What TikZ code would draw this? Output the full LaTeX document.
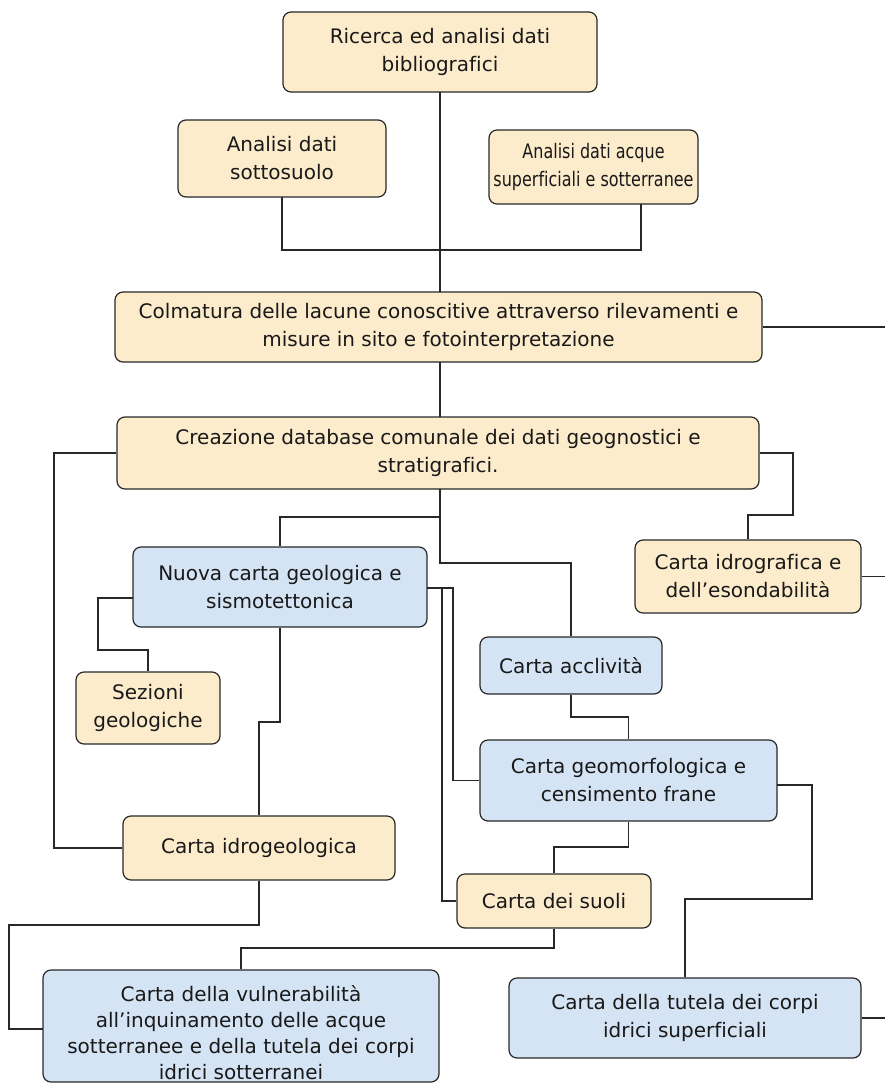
\documentclass[tikz,border=0pt]{standalone}
\usepackage{fontspec}
\setmainfont[Ligatures=NoCommon]{DejaVu Sans}
\newfontfamily\narrowfont[Ligatures=NoCommon,FakeStretch=0.8]{DejaVu Sans}
\usepackage{tikz}
\usetikzlibrary{positioning,calc}
\definecolor{boxorange}{RGB}{252,236,204}
\definecolor{boxblue}{RGB}{212,228,244}
\definecolor{boxline}{RGB}{40,40,40}
\tikzset{
    box/.style={draw=boxline,line width=1.2pt,rounded corners=8pt,align=center,inner sep=0pt,text=black!90},
    orange box/.style={box,fill=boxorange},
    blue box/.style={box,fill=boxblue},
    size/.style 2 args={minimum width=#1pt,minimum height=#2pt},
    link/.style={draw=boxline,line width=1.2pt},
}
\tikzstyle{every node}=[font=\fontsize{20}{28}\selectfont]

\begin{document}
\begin{tikzpicture}[x=1pt,y=-1pt]
        \useasboundingbox (0,0) rectangle (885,1084);

        \node[orange box,size={314}{80}] (ricerca) at (440,52)
        {Ricerca ed analisi dati\\bibliografici};
        \node[orange box,size={208}{77}] (sottosuolo) at (282,158.5)
        {Analisi dati\\sottosuolo};
        \node[orange box,size={209}{74},font=\narrowfont\fontsize{20}{28}\selectfont] (acque) at (593.5,167)
        {Analisi dati acque\\superficiali e sotterranee};
        \node[orange box,size={647}{70}] (colmatura) at (438.5,327)
        {Colmatura delle lacune conoscitive attraverso rilevamenti e\\misure in sito e fotointerpretazione};
        \node[orange box,size={642}{72}] (creazione) at (438,453)
        {Creazione database comunale dei dati geognostici e\\stratigrafici.};
        \node[blue box,size={294}{80}] (nuova) at (280,587)
        {Nuova carta geologica e\\sismotettonica};
        \node[orange box,size={226}{73}] (idrografica) at (748,576.5)
        {Carta idrografica e\\dell’esondabilità};
        \node[orange box,size={144}{72}] (sezioni) at (148,708)
        {Sezioni\\geologiche};
        \node[blue box,size={182}{57}] (acclivita) at (571,665.5)
        {Carta acclività};
        \node[blue box,size={297}{81}] (geomorf) at (628.5,780.5)
        {Carta geomorfologica e\\censimento frane};
        \node[orange box,size={272}{64}] (idrogeo) at (259,848)
        {Carta idrogeologica};
        \node[orange box,size={194}{54}] (suoli) at (554,901)
        {Carta dei suoli};
        \node[blue box,size={396}{112},font=\fontsize{20}{26}\selectfont] (vulner) at (241,1026)
        {\rule{0pt}{29pt}Carta della vulnerabilità\\all’inquinamento delle acque\\sotterranee e della tutela dei corpi\\idrici sotterranei};
        \node[blue box,size={352}{80}] (tutela) at (685,1018)
        {Carta della tutela dei corpi\\idrici superficiali};

        \draw[link] (440,92) -- (440,292);
        \draw[link] (282,197) -- (282,250) -- (641,250) -- (641,204);
        \draw[link] (colmatura.east) -- (885,327);
        \draw[link] (440,362) -- (440,417);
        \draw[link] (creazione.west) -- (54,453) -- (54,848) -- (idrogeo.west);
        \draw[link] (creazione.east) -- (793,453) -- (793,515) -- (748,515) -- (idrografica.north);
        \draw[link] (idrografica.east) -- (885,576.5);
        \draw[link] (440,489) -- (440,517) -- (280,517) -- (nuova.north);
        \draw[link] (440,517) -- (440,563) -- (571,563) -- (acclivita.north);
        \draw[link] (133,598) -- (98,598) -- (98,650) -- (148,650) -- (sezioni.north);
        \draw[link] (427,588) -- (453,588) -- (453,780.5) -- (geomorf.west);
        \draw[link] (442,588) -- (442,901) -- (suoli.west);
        \draw[link] (nuova.south) -- (280,722) -- (259,722) -- (idrogeo.north);
        \draw[link] (acclivita.south) -- (571,717) -- (628.5,717) -- (geomorf.north);
        \draw[link] (777,785) -- (812,785) -- (812,899) -- (685,899) -- (tutela.north);
        \draw[link] (geomorf.south) -- (628.5,847) -- (554,847) -- (suoli.north);
        \draw[link] (suoli.south) -- (554,948) -- (241,948) -- (vulner.north);
        \draw[link] (idrogeo.south) -- (259,925) -- (9,925) -- (9,1029) -- (43,1029);
        \draw[link] (tutela.east) -- (885,1018);
    \end{tikzpicture}
\end{document}
